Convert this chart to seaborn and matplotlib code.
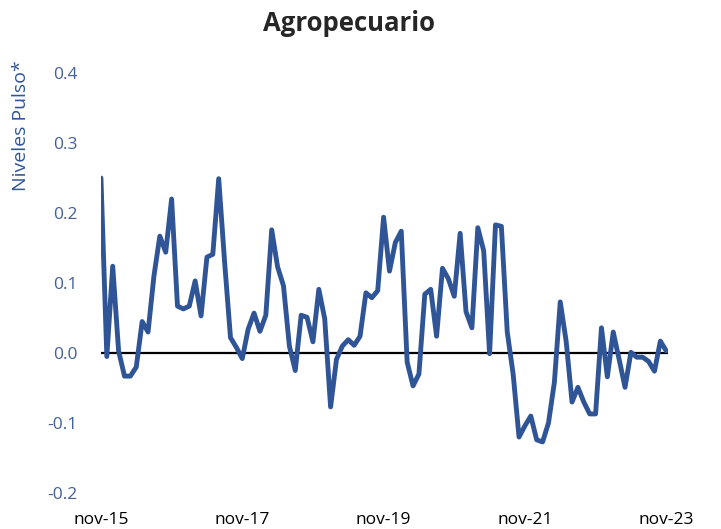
# Agropecuario - Niveles Pulso
import numpy as np
import pandas as pd
import seaborn as sns
import matplotlib.pyplot as plt

# Data ---------------
pulso = [
    0.250, -0.005, 0.124, 0.003, -0.033, -0.033, -0.020, 0.045, 0.030, 0.110,
    0.167, 0.144, 0.220, 0.067, 0.063, 0.067, 0.103, 0.053, 0.137, 0.141,
    0.249, 0.130, 0.022, 0.008, -0.008, 0.034, 0.057, 0.031, 0.054, 0.176,
    0.123, 0.096, 0.010, -0.025, 0.054, 0.051, 0.016, 0.091, 0.049, -0.077,
    -0.009, 0.010, 0.019, 0.011, 0.024, 0.086, 0.079, 0.089, 0.194, 0.117,
    0.158, 0.174, -0.013, -0.047, -0.030, 0.084, 0.091, 0.024, 0.121, 0.106,
    0.081, 0.171, 0.059, 0.036, 0.179, 0.146, -0.001, 0.183, 0.181, 0.030,
    -0.030, -0.120, -0.104, -0.090, -0.124, -0.127, -0.100, -0.042, 0.073, 0.017,
    -0.070, -0.049, -0.070, -0.087, -0.087, 0.036, -0.034, 0.030, -0.009, -0.049,
    0.001, -0.006, -0.006, -0.012, -0.026, 0.017, 0.003,
]
tick_pos = [0, 24, 48, 72, 96]
tick_labels = ["nov-15", "nov-17", "nov-19", "nov-21", "nov-23"]
y_ticks = [-0.2, -0.1, 0.0, 0.1, 0.2, 0.3, 0.4]

df = pd.DataFrame({"mes": np.arange(len(pulso)), "pulso": pulso})

## Plot ---------
sns.set_style("white")
plt.rcParams["font.family"] = ["Open Sans", "DejaVu Sans"]

fig = plt.figure(figsize=(7.21, 5.29), dpi=100)
ax = fig.add_axes([0.14, 0.068, 0.7865, 0.794])

ax.axhline(0, color="black", lw=1.6, zorder=1)
sns.lineplot(data=df, x="mes", y="pulso", ax=ax, color="#2F5597", lw=3.5, zorder=2)

ax.set_xlim(0, 96.3)
ax.set_ylim(-0.2, 0.4)
ax.set_xticks(tick_pos)
ax.set_xticklabels(tick_labels, fontsize=12.5, color="black")
ax.set_yticks(y_ticks)
ax.set_yticklabels([f"{v:.1f}" for v in y_ticks], fontsize=12.5, color="#44609A")
ax.tick_params(axis="x", length=0, pad=14)
ax.tick_params(axis="y", length=0, pad=17)
ax.set_xlabel("")
ax.set_ylabel("Niveles Pulso*", fontsize=14, color="#2F5597", loc="top")
ax.yaxis.set_label_coords(-0.125, 1.03)
fig.text(0.484, 0.955, "Agropecuario", fontsize=18.5, fontweight="bold",
         ha="center", va="center")
sns.despine(ax=ax, left=True, bottom=True)

fig.savefig("out.png", dpi=100)
